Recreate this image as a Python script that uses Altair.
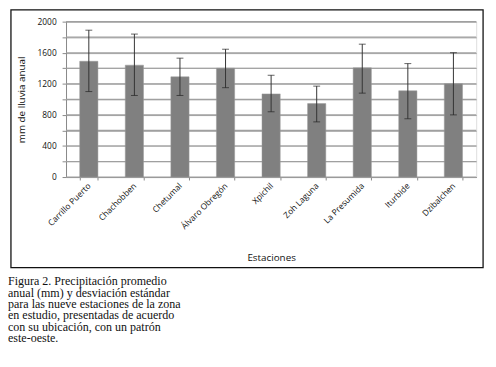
import altair as alt
import pandas as pd

estaciones = ["Carrillo Puerto", "Chachobben", "Chetumal", "Álvaro Obregón", "Xpichil",
              "Zoh Laguna", "La Presumida", "Iturbide", "Dzibalchen"]
media = [1490, 1440, 1290, 1400, 1070, 945, 1405, 1110, 1200]
sup = [1890, 1840, 1530, 1645, 1310, 1170, 1710, 1460, 1600]
inf = [1100, 1050, 1050, 1150, 840, 710, 1080, 750, 800]
caption = ["Figura 2. Precipitación promedio",
           "anual (mm) y desviación estándar",
           "para las nueve estaciones de la zona",
           "en estudio, presentadas de acuerdo",
           "con su ubicación, con un patrón",
           "este-oeste."]
y_ticks = list(range(0, 2001, 200))

df = pd.DataFrame({"est": estaciones, "media": media, "sup": sup, "inf": inf})
grid_df = pd.DataFrame({"v": y_ticks})

W, H = 417, 158
font = "Open Sans"

xscale = alt.Scale(domain=estaciones, paddingInner=0.6, paddingOuter=0.3)
yscale = alt.Scale(domain=[0, 2000], nice=False)

xaxis = alt.Axis(labelAngle=-45, labelAlign="right", labelBaseline="middle",
                 labelFontSize=8.5, labelFont=font, labelColor="#111",
                 labelPadding=4, tickBand="extent", tickSize=3,
                 tickColor="#888", domainColor="#888",
                 titleFontSize=10, titleFont=font, titleFontWeight="normal",
                 titleColor="#111", titlePadding=23, grid=False)
yaxis = alt.Axis(values=y_ticks, grid=True, labelOverlap=False,
                 labelExpr="datum.value % 400 == 0 ? datum.label : ''",
                 format="d", labelFontSize=8.5, labelFont=font, labelColor="#111",
                 labelPadding=6, tickSize=4, tickColor="#888", domainColor="#888",
                 gridColor="#a0a0a0", gridWidth=1,
                 titleFontSize=10, titleFont=font, titleFontWeight="normal",
                 titleColor="#111", titlePadding=11)

xenc = alt.X("est:N", sort=estaciones, title="Estaciones", scale=xscale, axis=xaxis)


def yenc(field):
    return alt.Y(field, type="quantitative", scale=yscale, axis=yaxis,
                 title="mm de lluvia anual")


grid = alt.Chart(grid_df).mark_rule(color="#a0a0a0", strokeWidth=1.2).encode(
    y=yenc("v"), x=alt.value(0), x2=alt.value(W))
bars = alt.Chart(df).mark_bar(color="#808080", stroke="#9a9a9a", strokeWidth=0.5).encode(
    x=xenc, y=yenc("media"))
err = alt.Chart(df).mark_rule(color="#333", strokeWidth=1).encode(
    x=xenc, y=yenc("sup"), y2="inf:Q")
cap_top = alt.Chart(df).mark_tick(color="#222", orient="horizontal", size=7, thickness=1).encode(
    x=xenc, y=yenc("sup"))
cap_bot = alt.Chart(df).mark_tick(color="#222", orient="horizontal", size=7, thickness=1).encode(
    x=xenc, y=yenc("inf"))

frame = alt.Chart(pd.DataFrame({"a": [0]})).mark_rect(
    fill=None, stroke="#111", strokeWidth=1.3).encode(
    x=alt.value(-56), x2=alt.value(424), y=alt.value(-12), y2=alt.value(250))

cap_text = alt.Chart(pd.DataFrame({"a": [0]})).mark_text(
    align="left", baseline="alphabetic", font="Liberation Serif", fontSize=12.2,
    lineHeight=11.6, color="#111").encode(
    text=alt.value(caption), x=alt.value(-59), y=alt.value(268))

chart = alt.layer(grid, bars, err, cap_top, cap_bot, frame, cap_text).properties(
    width=W, height=H,
    autosize=alt.AutoSizeParams(type="none"),
    padding={"left": 59, "top": 11, "right": 12, "bottom": 175},
).configure_view(strokeWidth=0).configure(background="white")

chart.save("out.html", embed_options={"renderer": "svg", "actions": False})
